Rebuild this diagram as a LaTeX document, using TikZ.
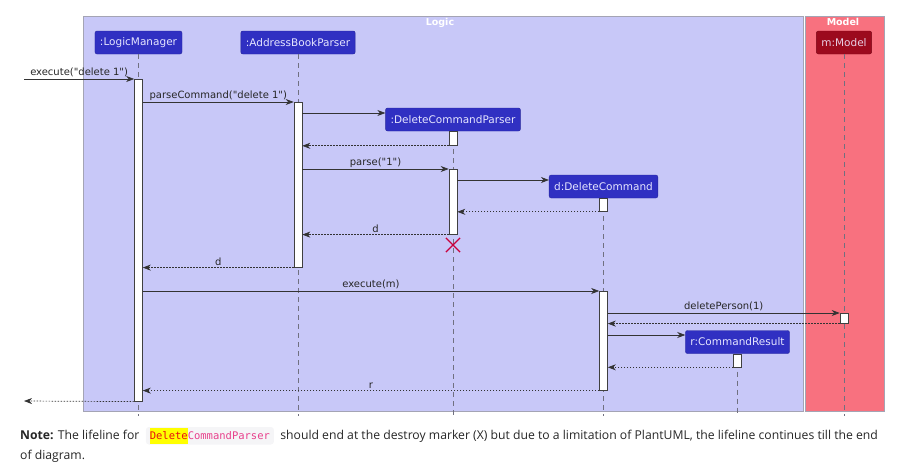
\documentclass[tikz,border=0pt]{standalone}
\usepackage{fontspec}
\usepackage{xcolor}
\usetikzlibrary{arrows.meta}
\usetikzlibrary{shapes.misc}
\usetikzlibrary{positioning}
\newfontfamily\umlfont{DejaVu Sans}
\newfontfamily\notefont{Open Sans}
\setmonofont{DejaVu Sans Mono}
\definecolor{logicbg}{HTML}{C8C8F8}
\definecolor{modelbg}{HTML}{F8717F}
\definecolor{frameline}{HTML}{A4A4B4}
\definecolor{partblue}{HTML}{3030C2}
\definecolor{partred}{HTML}{9C0A1E}
\definecolor{parttext}{HTML}{E6E6FF}
\definecolor{lifegrey}{HTML}{707080}
\definecolor{xred}{HTML}{C8003C}
\definecolor{codebg}{HTML}{F5F5F7}
\definecolor{hlyellow}{HTML}{FFFF00}
\definecolor{codered}{HTML}{E81010}
\definecolor{codepink}{HTML}{E8408C}
\tikzset{participant/.style={draw=partblue!80!black,fill=partblue,rounded corners=2pt,
            text=parttext,font=\umlfont\fontsize{10.5}{12}\selectfont,
            inner xsep=5pt,minimum height=23pt},
         modelpart/.style={participant,draw=partred!80!black,fill=partred,text=parttext!90!red},
         lifeline/.style={draw=lifegrey,dash pattern=on 5pt off 4pt,line width=0.6pt},
         actbar/.style={draw=black!75,fill=white,minimum width=8pt,inner sep=0pt,anchor=north,line width=0.6pt},
         msg/.style={draw=black!80,line width=0.7pt,-{Stealth[length=8pt,width=6pt,inset=2.5pt]}},
         ret/.style={msg,dash pattern=on 1.5pt off 1.5pt},
         lbl/.style={font=\umlfont\fontsize{10}{12}\selectfont,midway,above,inner sep=1.5pt,text=black!85},
         boxtitle/.style={font=\umlfont\bfseries\fontsize{9.5}{11}\selectfont,text=white,anchor=north},
         destroy/.style={shape=cross out,draw=xred,line width=1.2pt,minimum size=13pt,inner sep=0pt},
         }
\begin{document}
\begin{tikzpicture}[x=1pt,y=-1pt]
\useasboundingbox (0,0) rectangle (911,469);
% boxes
\fill[logicbg] (83,16) rectangle (803,411);
\draw[frameline] (83,16) rectangle (803,411);
\fill[modelbg] (805,16) rectangle (884,411);
\draw[frameline] (805,16) rectangle (884,411);
\node[boxtitle] (logicT) at (440,15) {Logic};
\node[boxtitle] (modelT) at (843,15) {Model};
% participants
\node[participant] (lm) at (138.5,42.5) {:LogicManager};
\node[participant] (abp) at (298,42.5) {:AddressBookParser};
\node[participant] (dcp) at (453,119.5) {:DeleteCommandParser};
\node[participant] (dc) at (603.5,186.5) {d:DeleteCommand};
\node[participant] (cr) at (737.5,342) {r:CommandResult};
\node[modelpart] (mm) at (844,42.5) {m:Model};
% lifelines
\foreach \p in {lm,abp,dcp,dc,cr,mm}
  \draw[lifeline] (\p.south) -- (\p.south |- 0,416);
% activations
\node[actbar,minimum height=322pt] (lmAct) at (lm |- 0,79) {};
\node[actbar,minimum height=165pt] (abpAct) at (abp |- 0,102) {};
\node[actbar,minimum height=14pt] (dcpAct1) at (dcp.south) {};
\node[actbar,minimum height=65pt] (dcpAct2) at (dcp |- 0,169) {};
\node[actbar,minimum height=13pt] (dcAct1) at (dc.south) {};
\node[actbar,minimum height=99pt] (dcAct2) at (dc |- 0,291) {};
\node[actbar,minimum height=10pt] (mmAct) at (mm |- 0,313) {};
\node[actbar,minimum height=13pt] (crAct) at (cr.south) {};
\node[destroy] (dcpX) at (dcp |- 0,245) {};
% messages
\coordinate (inL) at (24,79);
\coordinate (outL) at (24,401);
\draw[msg] (inL) -- (lmAct.north west) node[lbl] {execute("delete 1")};
\draw[msg] (lmAct.east |- abpAct.north) -- (abpAct.north west) node[lbl] {parseCommand("delete 1")};
\draw[msg] (abpAct.east |- 0,113) -- (dcp.west |- 0,113);
\draw[ret] (dcpAct1.south west) -- (abpAct.east |- dcpAct1.south);
\draw[msg] (abpAct.east |- dcpAct2.north) -- (dcpAct2.north west) node[lbl] {parse("1")};
\draw[msg] (dcpAct2.east |- 0,180) -- (dc.west |- 0,180);
\draw[ret] (dcAct1.south west) -- (dcpAct2.east |- dcAct1.south);
\draw[ret] (dcpAct2.south west) -- (abpAct.east |- dcpAct2.south) node[lbl] {d};
\draw[ret] (abpAct.south west) -- (lmAct.east |- abpAct.south) node[lbl] {d};
\draw[msg] (lmAct.east |- dcAct2.north) -- (dcAct2.north west) node[lbl] {execute(m)};
\draw[msg] (dcAct2.east |- mmAct.north) -- (mmAct.north west) node[lbl] {deletePerson(1)};
\draw[ret] (mmAct.south west) -- (dcAct2.east |- mmAct.south);
\draw[msg] (dcAct2.east |- 0,335) -- (cr.west |- 0,335);
\draw[ret] (crAct.south west) -- (dcAct2.east |- crAct.south);
\draw[ret] (dcAct2.south west) -- (lmAct.east |- dcAct2.south) node[lbl] {r};
\draw[ret] (lmAct.south west) -- (outL);
% note
\node[anchor=base west,inner sep=0pt,font=\notefont\fontsize{12.2}{14}\selectfont,text=black!85] (noteA) at (20,439)
  {\textbf{Note:} The lifeline for};
\node[base right=6pt of noteA,fill=codebg,rounded corners=3pt,inner xsep=4pt,inner ysep=1pt,
      font=\ttfamily\fontsize{10.5}{12}\selectfont] (code)
  {{\setlength\fboxsep{0pt}\colorbox{hlyellow}{\vrule height 11pt depth 4.5pt width 0pt\textcolor{codered}{Delete}}}\textcolor{codepink}{CommandParser}};
\node[base right=6pt of code,inner sep=0pt,font=\notefont\fontsize{12.2}{14}\selectfont,text=black!85] (noteB)
  {should end at the destroy marker (X) but due to a limitation of PlantUML, the lifeline continues till the end};
\node[anchor=base west,inner sep=0pt,font=\notefont\fontsize{12.2}{14}\selectfont,text=black!85] (noteC) at (20,459)
  {of diagram.};
\end{tikzpicture}
\end{document}
